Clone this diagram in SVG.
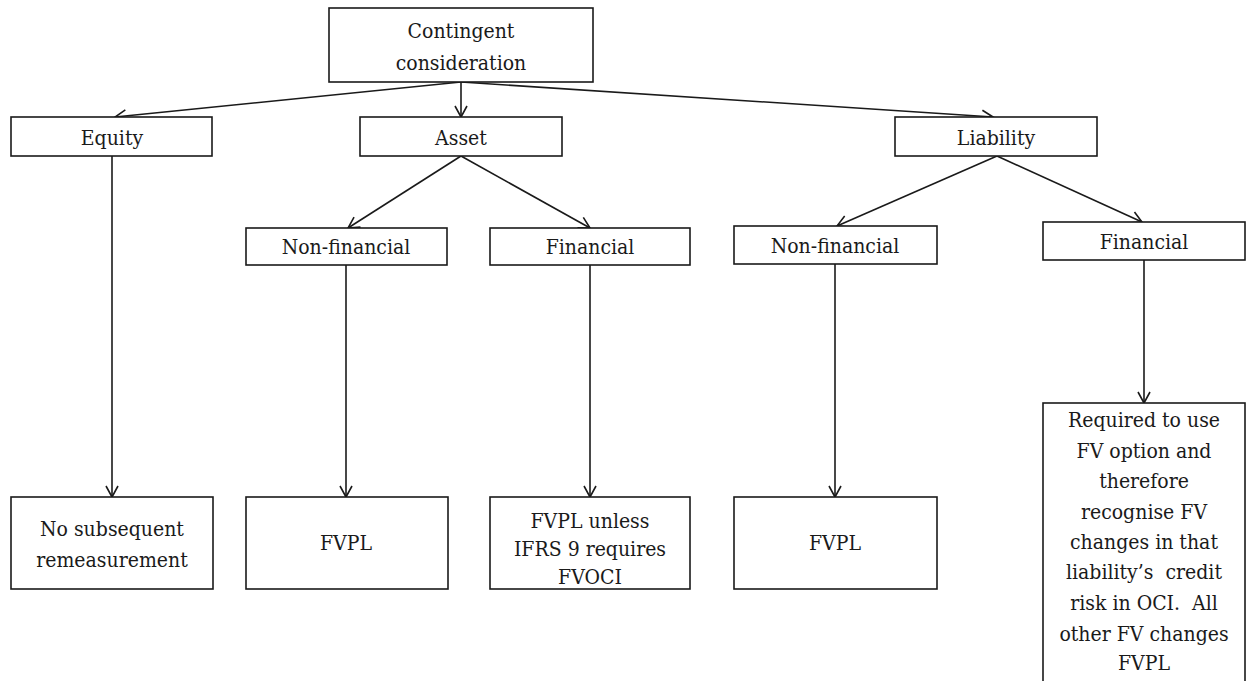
<svg xmlns="http://www.w3.org/2000/svg" width="1246" height="681" viewBox="0 0 1246 681">
  <style>
    .box { fill: #ffffff; stroke: #1a1a1a; stroke-width: 1.6; }
    .lbl { font-family: 'DejaVu Serif Condensed', 'DejaVu Serif', serif; font-stretch: condensed; font-size: 21px; fill: #1a1a1a; text-anchor: middle; }
    .edge { fill: none; stroke: #1a1a1a; stroke-width: 1.6; marker-end: url(#arr); }
  </style>
  <defs>
    <marker id="arr" markerUnits="userSpaceOnUse" markerWidth="16" markerHeight="16" viewBox="-12 -8 14 16" refX="0" refY="0" orient="auto" overflow="visible">
      <path d="M -11 -6 L 0 0 L -11 6" fill="none" stroke="#1a1a1a" stroke-width="1.6"/>
    </marker>
  </defs>
  <rect width="1246" height="681" fill="#ffffff"/>

  <g id="connectors">
    <line class="edge" x1="461" y1="82" x2="115" y2="117"/>
    <line class="edge" x1="461" y1="82" x2="461" y2="117"/>
    <line class="edge" x1="461" y1="82" x2="993" y2="117"/>
    <line class="edge" x1="461" y1="156" x2="348" y2="228"/>
    <line class="edge" x1="461" y1="156" x2="590" y2="228"/>
    <line class="edge" x1="997" y1="156" x2="837" y2="226"/>
    <line class="edge" x1="997" y1="156" x2="1142" y2="222"/>
    <line class="edge" x1="112" y1="156" x2="112" y2="497"/>
    <line class="edge" x1="346" y1="265" x2="346" y2="497"/>
    <line class="edge" x1="590" y1="265" x2="590" y2="497"/>
    <line class="edge" x1="835" y1="264" x2="835" y2="497"/>
    <line class="edge" x1="1144" y1="260" x2="1144" y2="403"/>
  </g>

  <g id="contingent">
    <rect class="box" x="329" y="8" width="264" height="74"/>
    <text class="lbl" x="461" y="38">Contingent</text>
    <text class="lbl" x="461" y="70">consideration</text>
  </g>
  <g id="equity">
    <rect class="box" x="11" y="117" width="201" height="39"/>
    <text class="lbl" x="112" y="145">Equity</text>
  </g>
  <g id="asset">
    <rect class="box" x="360" y="117" width="202" height="39"/>
    <text class="lbl" x="461" y="145">Asset</text>
  </g>
  <g id="liability">
    <rect class="box" x="895" y="117" width="202" height="39"/>
    <text class="lbl" x="996" y="145">Liability</text>
  </g>
  <g id="asset-nonfinancial">
    <rect class="box" x="246" y="228" width="201" height="37"/>
    <text class="lbl" x="346" y="254">Non-financial</text>
  </g>
  <g id="asset-financial">
    <rect class="box" x="490" y="228" width="200" height="37"/>
    <text class="lbl" x="590" y="254">Financial</text>
  </g>
  <g id="liability-nonfinancial">
    <rect class="box" x="734" y="226" width="203" height="38"/>
    <text class="lbl" x="835" y="253">Non-financial</text>
  </g>
  <g id="liability-financial">
    <rect class="box" x="1043" y="222" width="202" height="38"/>
    <text class="lbl" x="1144" y="249">Financial</text>
  </g>
  <g id="equity-result">
    <rect class="box" x="11" y="497" width="202" height="92"/>
    <text class="lbl" x="112" y="536">No subsequent</text>
    <text class="lbl" x="112" y="567">remeasurement</text>
  </g>
  <g id="asset-nonfinancial-result">
    <rect class="box" x="246" y="497" width="202" height="92"/>
    <text class="lbl" x="346" y="550">FVPL</text>
  </g>
  <g id="asset-financial-result">
    <rect class="box" x="490" y="497" width="200" height="92"/>
    <text class="lbl" x="590" y="528">FVPL unless</text>
    <text class="lbl" x="590" y="556">IFRS 9 requires</text>
    <text class="lbl" x="590" y="584">FVOCI</text>
  </g>
  <g id="liability-nonfinancial-result">
    <rect class="box" x="734" y="497" width="203" height="92"/>
    <text class="lbl" x="835" y="550">FVPL</text>
  </g>
  <g id="liability-financial-result">
    <rect class="box" x="1043" y="403" width="202" height="290"/>
    <text class="lbl" x="1144" y="427">Required to use</text>
    <text class="lbl" x="1144" y="458">FV option and</text>
    <text class="lbl" x="1144" y="488">therefore</text>
    <text class="lbl" x="1144" y="519">recognise FV</text>
    <text class="lbl" x="1144" y="549">changes in that</text>
    <text class="lbl" x="1144" y="579">liability’s&#160; credit</text>
    <text class="lbl" x="1144" y="610">risk in OCI.&#160; All</text>
    <text class="lbl" x="1144" y="641">other FV changes</text>
    <text class="lbl" x="1144" y="670">FVPL</text>
  </g>
</svg>
